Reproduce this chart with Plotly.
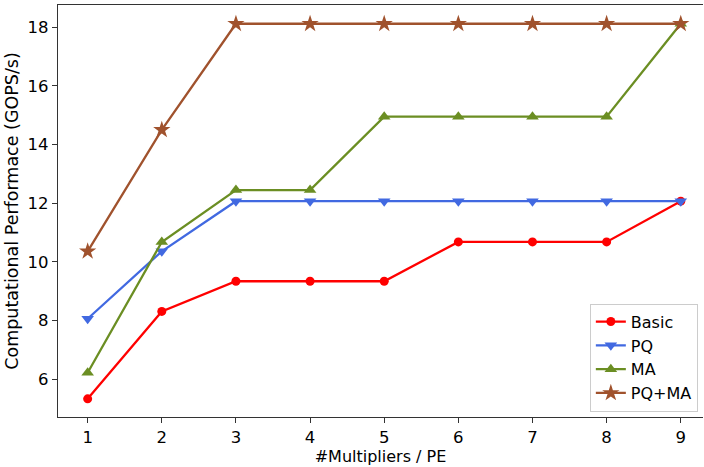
import plotly.graph_objects as go

x_vals = [1, 2, 3, 4, 5, 6, 7, 8, 9]
basic = [5.33, 8.31, 9.34, 9.34, 9.34, 10.68, 10.68, 10.68, 12.07]
pq = [8.06, 10.36, 12.07, 12.07, 12.07, 12.07, 12.07, 12.07, 12.07]
ma = [6.22, 10.68, 12.45, 12.45, 14.95, 14.95, 14.95, 14.95, 18.12]
pq_ma = [10.36, 14.5, 18.12, 18.12, 18.12, 18.12, 18.12, 18.12, 18.12]
y_ticks = [6, 8, 10, 12, 14, 16, 18]

series = [
    ("Basic", basic, "#ff0000", "circle", 9),
    ("PQ", pq, "#4169e1", "triangle-down", 11),
    ("MA", ma, "#6b8e23", "triangle-up", 11),
    ("PQ+MA", pq_ma, "#a0522d", "star", 13),
]

fig = go.Figure()
for name, vals, color, sym, sz in series:
    fig.add_trace(go.Scatter(
        x=x_vals, y=vals, name=name, mode="lines+markers",
        line=dict(color=color, width=2.3),
        marker=dict(symbol=sym, size=sz, color=color, line=dict(width=0)),
    ))

font = "DejaVu Sans, sans-serif"
fig.update_layout(
    width=704, height=467,
    margin=dict(l=58, r=1, t=5, b=50, autoexpand=False),
    plot_bgcolor="white", paper_bgcolor="white",
    font=dict(family=font, size=16, color="black"),
    showlegend=True,
    legend=dict(
        x=0.992, y=0.013, xanchor="right", yanchor="bottom",
        bgcolor="rgba(255,255,255,0.8)", bordercolor="#cccccc", borderwidth=1,
        font=dict(size=16), tracegroupgap=0, itemwidth=30,
    ),
)
fig.update_xaxes(
    range=[0.6, 9.3], tickmode="array", tickvals=x_vals,
    ticktext=[str(v) for v in x_vals],
    showgrid=False, zeroline=False,
    showline=True, linecolor="#333333", linewidth=1.2, mirror=True,
    ticks="outside", ticklen=5, tickcolor="#333333",
    tickfont=dict(size=16.5),
    title=dict(text="#Multipliers / PE", font=dict(size=16), standoff=4),
)
fig.update_yaxes(
    range=[4.71, 18.76], tickmode="array", tickvals=y_ticks,
    showgrid=False, zeroline=False,
    showline=True, linecolor="#333333", linewidth=1.2, mirror=False,
    ticks="outside", ticklen=5, tickcolor="#333333",
    tickfont=dict(size=16.5),
    title=dict(text="Computational Performace (GOPS/s)", font=dict(size=17.5), standoff=4),
)

fig.write_html(
    "out.html",
    config={"displayModeBar": False},
    post_script="document.body.style.margin='0';document.body.style.overflow='hidden';",
)
